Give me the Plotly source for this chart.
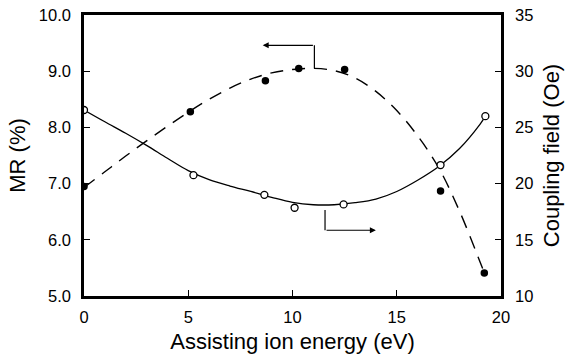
import plotly.graph_objects as go

# Measured data points
energy_mr = [0.0, 5.1, 8.7, 10.3, 12.5, 17.1, 19.2]
mr_values = [6.95, 8.28, 8.83, 9.05, 9.03, 6.87, 5.41]

energy_cf = [0.0, 5.25, 8.65, 10.1, 12.45, 17.1, 19.25]
cf_values = [26.55, 20.75, 19.0, 17.85, 18.15, 21.65, 26.0]

# Fitted curves
fit_mr_x = [0, 1, 2, 3, 4, 5, 6, 7, 8, 9, 10, 11, 12, 13, 14, 15, 16, 17, 18, 19, 19.2]
fit_mr_y = [6.93, 7.21, 7.49, 7.76, 8.02, 8.27, 8.50, 8.70, 8.86, 8.97, 9.03, 9.05, 9.01, 8.88, 8.64, 8.30, 7.85, 7.29, 6.52, 5.60, 5.41]

fit_cf_x = [0, 1, 2, 3, 4, 5, 6, 7, 8, 9, 10, 11, 12, 13, 14, 15, 16, 17, 18, 19, 19.25]
fit_cf_y = [26.55, 25.5, 24.48, 23.4, 22.25, 21.15, 20.35, 19.78, 19.3, 18.78, 18.33, 18.12, 18.12, 18.3, 18.62, 19.3, 20.3, 21.5, 23.1, 25.3, 26.0]

x_ticks = [0, 5, 10, 15, 20]
mr_ticks = [5.0, 6.0, 7.0, 8.0, 9.0, 10.0]
cf_ticks = [10, 15, 20, 25, 30, 35]

FONT = "Liberation Sans, Arial, sans-serif"

fig = go.Figure()

fig.add_trace(go.Scatter(x=fit_mr_x, y=fit_mr_y, mode="lines", line=dict(color="black", width=1.4, dash="13px,9px", shape="spline", smoothing=1.0), yaxis="y", showlegend=False, hoverinfo="skip"))
fig.add_trace(go.Scatter(x=fit_cf_x, y=fit_cf_y, mode="lines", line=dict(color="black", width=1.3, shape="spline", smoothing=1.0), yaxis="y2", showlegend=False, hoverinfo="skip"))
fig.add_trace(go.Scatter(x=energy_mr, y=mr_values, mode="markers", marker=dict(symbol="circle", size=7.5, color="black"), yaxis="y", showlegend=False))
fig.add_trace(go.Scatter(x=energy_cf, y=cf_values, mode="markers", marker=dict(symbol="circle", size=7, color="white", line=dict(color="black", width=1.3)), yaxis="y2", showlegend=False))

# Arrows indicating axis membership
fig.add_shape(type="line", x0=11.05, x1=11.05, y0=9.05, y1=9.46, xref="x", yref="y", line=dict(color="black", width=1.2))
fig.add_annotation(x=8.57, y=9.46, ax=11.05, ay=9.46, xref="x", yref="y", axref="x", ayref="y", text="", showarrow=True, arrowhead=2, arrowsize=1, arrowwidth=1.2, arrowcolor="black")
fig.add_shape(type="line", x0=11.56, x1=11.56, y0=6.53, y1=6.17, xref="x", yref="y", line=dict(color="black", width=1.2))
fig.add_annotation(x=14.0, y=6.17, ax=11.56, ay=6.17, xref="x", yref="y", axref="x", ayref="y", text="", showarrow=True, arrowhead=2, arrowsize=1, arrowwidth=1.2, arrowcolor="black")

fig.update_layout(
    width=567, height=358,
    margin=dict(l=84, r=66, t=15, b=62, autoexpand=False),
    paper_bgcolor="white", plot_bgcolor="white",
    font=dict(family=FONT, color="black", size=16),
    xaxis=dict(range=[0, 20], tickvals=x_ticks, ticktext=[str(v) for v in x_ticks],
               ticks="inside", ticklen=6, tickwidth=1.3, tickcolor="black",
               showline=True, linewidth=2.5, linecolor="black", mirror=True,
               showgrid=False, zeroline=False, automargin=False, ticklabelstandoff=4,
               ticklabeloverflow="allow",
               tickfont=dict(size=16.5, family=FONT),
               title=dict(text="Assisting ion energy (eV)", font=dict(size=22, family=FONT), standoff=10)),
    yaxis=dict(range=[5, 10], tickvals=mr_ticks, ticktext=[f"{v:.1f}" for v in mr_ticks],
               ticks="inside", ticklen=6, tickwidth=1.3, tickcolor="black",
               showline=True, linewidth=2.5, linecolor="black",
               showgrid=False, zeroline=False, automargin=False, ticklabelstandoff=7,
               ticklabeloverflow="allow",
               tickfont=dict(size=16.5, family=FONT),
               title=dict(text="MR (%)", font=dict(size=22, family=FONT), standoff=8)),
    yaxis2=dict(range=[10, 35], tickvals=cf_ticks, ticktext=[str(v) for v in cf_ticks],
                overlaying="y", side="right",
                ticks="inside", ticklen=6, tickwidth=1.3, tickcolor="black",
                showline=True, linewidth=2.5, linecolor="black",
                showgrid=False, zeroline=False, automargin=False, ticklabelstandoff=8,
                ticklabeloverflow="allow",
                tickfont=dict(size=16.5, family=FONT),
                title=dict(text="Coupling field (Oe)", font=dict(size=22, family=FONT), standoff=12)),
)

fig.write_html("out.html", config={"displayModeBar": False},
               post_script="document.body.style.margin='0';document.body.style.overflow='hidden';")
